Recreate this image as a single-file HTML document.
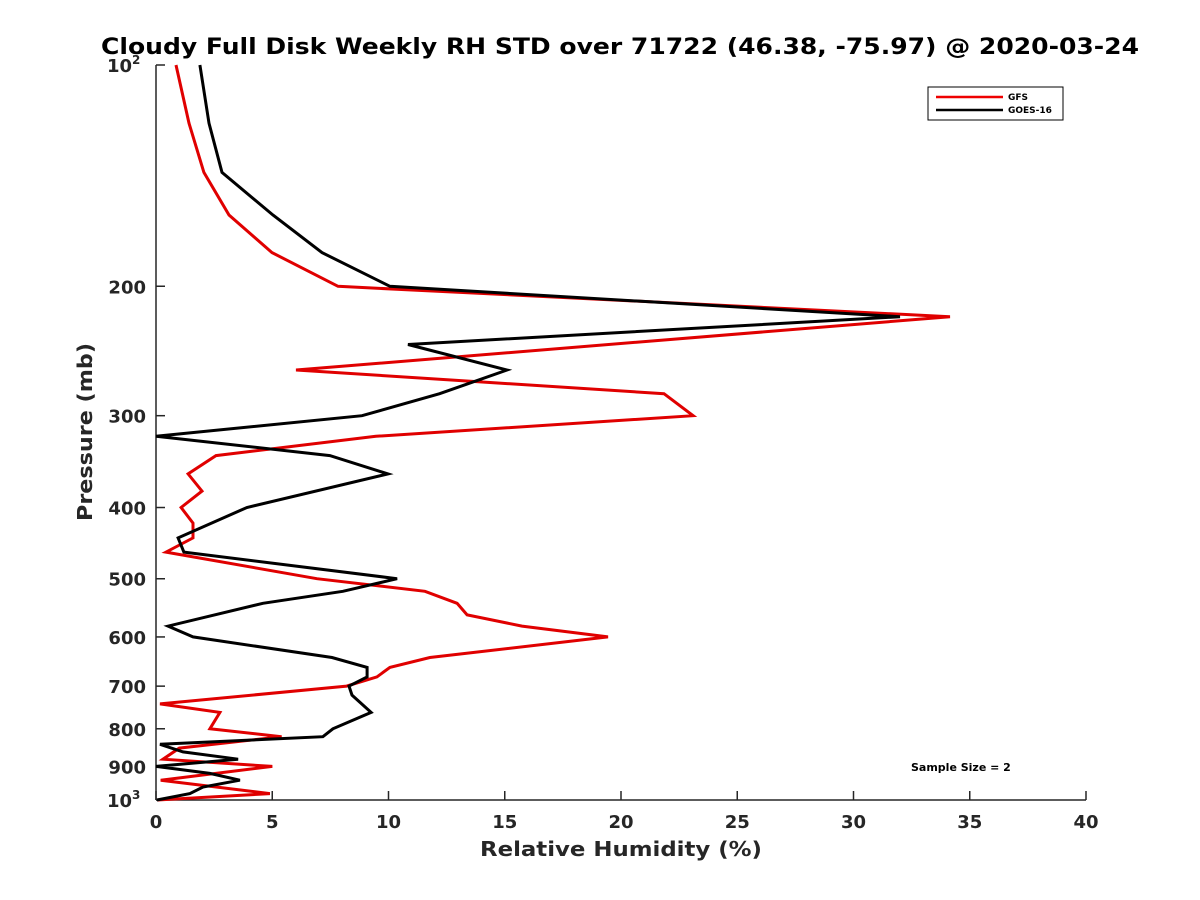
<!DOCTYPE html>
<html><head><meta charset="utf-8"><style>
html,body{margin:0;padding:0;background:#fff;}
svg{display:block;font-family:"DejaVu Sans","Liberation Sans",sans-serif;}
</style></head><body>
<svg id="chart" width="1200" height="900">
<rect x="0" y="0" width="1200" height="900" fill="#fff"/>
<text x="620" y="54" text-anchor="middle" font-size="22" font-weight="bold" fill="#000" textLength="1038" lengthAdjust="spacingAndGlyphs">Cloudy Full Disk Weekly RH STD over 71722 (46.38, -75.97) @ 2020-03-24</text>
<g id="axes"></g>
<g id="series"></g>
<text x="621" y="856" text-anchor="middle" font-size="20" font-weight="bold" fill="#262626" textLength="282" lengthAdjust="spacingAndGlyphs">Relative Humidity (%)</text>
<text transform="translate(92,432) rotate(-90)" text-anchor="middle" font-size="20" font-weight="bold" fill="#262626" textLength="178" lengthAdjust="spacingAndGlyphs">Pressure (mb)</text>
<text x="911" y="771" font-size="11" font-weight="bold" fill="#000">Sample Size = 2</text>
<g>
<rect x="928" y="87" width="135" height="33" fill="#fff" stroke="#000" stroke-width="1"/>
<line x1="936" y1="97" x2="1003" y2="97" stroke="#e00" stroke-width="2.5"/>
<text x="1008" y="100" font-size="9" font-weight="bold">GFS</text>
<line x1="936" y1="110" x2="1003" y2="110" stroke="#000" stroke-width="2.5"/>
<text x="1008" y="113" font-size="9" font-weight="bold">GOES-16</text>
</g>
</svg>
<script>
const gfsP=[100,120,140,160,180,200,220,260,280,300,320,340,360,380,400,420,440,460,500,520,540,560,580,600,640,660,680,700,740,760,800,820,850,880,900,940,980,1000];
const gfsRH=[0.86,1.42,2.06,3.14,4.99,7.83,34.15,6.02,21.85,23.1,9.46,2.58,1.38,1.98,1.08,1.59,1.59,0.43,6.92,11.57,12.95,13.38,15.74,19.44,11.78,10.06,9.5,8.2,0.17,2.75,2.32,5.4,1.0,0.3,5.0,0.2,4.9,0.05];
const goesP=[100,120,140,160,180,200,220,240,260,280,300,320,340,360,400,440,460,500,520,540,580,600,640,660,680,700,720,760,800,820,840,860,880,900,920,940,960,980,1000];
const goesRH=[1.89,2.28,2.84,5.03,7.14,10.06,32.0,10.84,15.1,12.2,8.86,0,7.48,9.98,3.91,0.95,1.2,10.37,8.04,4.6,0.52,1.59,7.57,9.08,9.08,8.3,8.43,9.25,7.61,7.18,0.17,1.16,3.53,0,2.32,3.61,2.02,1.46,0.04];
const xTicks=[0,5,10,15,20,25,30,35,40];
const yTicks=[100,200,300,400,500,600,700,800,900,1000];
const yTickLabels=["10","200","300","400","500","600","700","800","900","10"];
const yTickSup=["2","","","","","","","","","3"];

const X0=156,X1=1086,Y0=65,Y1=800;
const xs=v=>X0+(v-0)/40*(X1-X0);
const ys=p=>Y0+(Math.log10(p)-2)*(Y1-Y0);
const NS="http://www.w3.org/2000/svg";
const axes=document.getElementById('axes');
const ser=document.getElementById('series');
function mk(tag,attrs,parent){const e=document.createElementNS(NS,tag);for(const k in attrs)e.setAttribute(k,attrs[k]);parent.appendChild(e);return e;}

let l=mk('line',{x1:X0,y1:Y0,x2:X0,y2:Y1,stroke:'#262626','stroke-width':1.5},axes);


l=mk('line',{x1:X0,y1:Y1,x2:X1,y2:Y1,stroke:'#262626','stroke-width':1.5},axes);



xTicks.forEach(v=>{
  const x=xs(v);
  const t=mk('line',{x1:x,y1:Y1,x2:x,y2:Y1-9,stroke:'#262626','stroke-width':1.5},axes);
  
  
  const tx=mk('text',{x:x,y:Y1+28,'text-anchor':'middle','font-size':18,'font-weight':'bold',fill:'#262626'},axes);
  tx.textContent=v;
  
  
});
yTicks.forEach((p,i)=>{
  const y=ys(p);
  const t=mk('line',{x1:X0,y1:y,x2:X0+9,y2:y,stroke:'#262626','stroke-width':1.5},axes);
  
  
  if(yTickSup[i]){
    const tx=mk('text',{x:X0-24,y:y+7,'text-anchor':'end','font-size':18,'font-weight':'bold',fill:'#262626'},axes);
    tx.textContent=yTickLabels[i];
    
    
    const sp=mk('text',{x:X0-24,y:y-1,'text-anchor':'start','font-size':12,'font-weight':'bold',fill:'#262626'},axes);
    sp.textContent=yTickSup[i];
    
    
  } else {
    const tx=mk('text',{x:X0-10,y:y+7,'text-anchor':'end','font-size':18,'font-weight':'bold',fill:'#262626'},axes);
    tx.textContent=yTickLabels[i];
    
    
  }
});

function line(P,V,color,name){
  const d=P.map((p,i)=>(i?'L':'M')+xs(V[i]).toFixed(1)+' '+ys(p).toFixed(1)).join(' ');
  const e=mk('path',{d:d,fill:'none',stroke:color,'stroke-width':3,'stroke-linejoin':'miter'},ser);
  
  
}
line(gfsP,gfsRH,'#e00000','gfs-line');
line(goesP,goesRH,'#000000','goes16-line');
</script>
</body></html>
